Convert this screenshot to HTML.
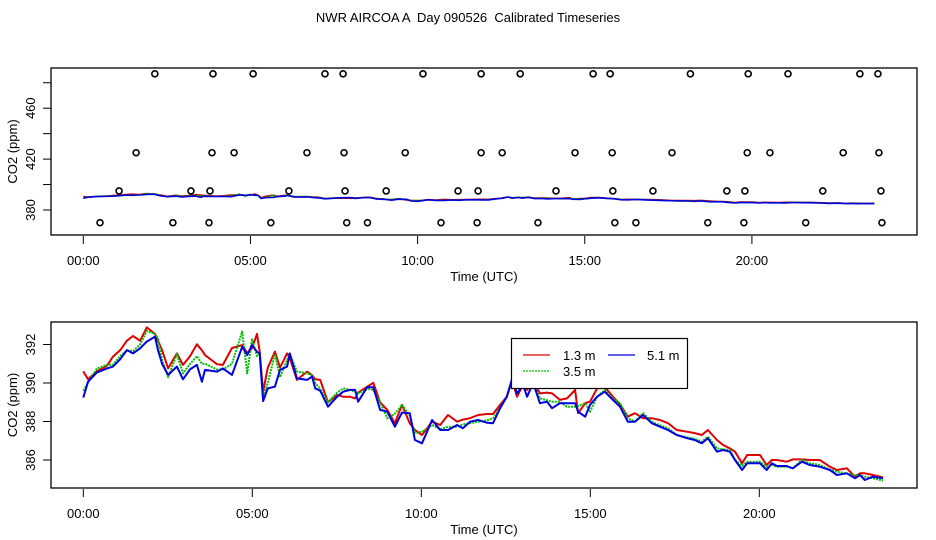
<!DOCTYPE html>
<html><head><meta charset="utf-8"><style>
body{margin:0;background:#fff}
svg{display:block;font-family:"Liberation Sans",sans-serif}
text{white-space:pre}
</style></head><body>
<svg id="chart" width="936" height="540" viewBox="0 0 936 540">
<text x="468" y="22" text-anchor="middle" font-size="13" xml:space="preserve">NWR AIRCOA A  Day 090526  Calibrated Timeseries</text>
<g id="top"></g>
<g id="bot"></g>
</svg>
<script>
const hours=[0.00,0.14,0.40,0.70,0.88,1.09,1.29,1.47,1.68,1.88,2.12,2.21,2.33,2.51,2.77,2.95,3.16,3.36,3.51,3.60,3.96,4.13,4.40,4.70,4.85,4.99,5.14,5.22,5.32,5.46,5.67,5.82,6.03,6.11,6.32,6.62,6.77,6.86,7.01,
7.24,7.51,7.69,7.89,8.04,8.13,8.40,8.58,8.78,8.99,9.22,9.43,9.66,9.81,10.02,10.32,10.56,10.79,11.06,11.23,11.44,11.68,11.94,12.12,12.33,12.53,12.69,12.83,13.01,13.13,13.31,13.51,
13.72,13.87,14.10,14.31,14.55,14.64,14.85,14.99,15.20,15.43,15.67,15.88,16.11,16.32,16.56,16.82,17.06,17.30,17.56,17.86,18.09,18.30,18.48,18.75,18.93,19.13,19.28,19.49,19.64,20.02,20.22,20.37,20.52,20.81,20.99,21.26,21.49,21.79,22.09,22.30,22.59,22.83,22.98,23.12,23.36,23.66];
const blue=[389.24,390.07,390.54,390.76,390.85,391.23,391.71,391.54,391.80,392.15,392.41,391.71,390.99,390.42,390.85,390.19,390.71,390.94,390.07,390.68,390.59,390.76,390.42,391.88,391.45,391.97,391.62,391.54,389.06,389.72,389.81,390.68,390.85,391.54,390.24,390.16,390.33,389.72,389.60,
388.77,389.29,389.55,389.64,389.64,389.03,389.78,389.78,388.60,388.51,387.73,388.46,388.43,387.04,386.87,388.08,387.56,387.56,387.82,387.65,387.99,388.08,387.94,387.91,388.69,389.29,390.24,389.46,389.90,389.29,390.01,388.95,
389.03,388.69,388.95,388.95,388.95,388.51,388.25,388.86,389.29,389.55,389.12,388.77,387.99,387.99,388.34,387.91,387.73,387.56,387.30,387.13,387.04,386.87,387.13,386.43,386.52,386.43,386.00,385.48,385.83,385.83,385.48,385.83,385.69,385.69,385.57,385.91,385.74,385.65,385.48,385.22,385.31,385.05,385.22,384.96,385.13,385.05];
const red=[390.60,390.20,390.60,390.90,391.37,391.70,392.20,392.44,392.20,392.89,392.55,392.20,391.71,390.76,391.54,390.94,391.40,392.01,391.70,391.45,390.97,390.94,391.82,391.97,391.56,391.80,392.55,391.63,389.55,390.80,391.63,390.80,391.54,391.30,390.16,390.59,390.40,390.20,390.16,
389.00,389.38,389.29,389.29,389.20,389.50,389.81,390.01,389.00,388.60,387.91,388.86,387.90,387.56,387.30,387.99,387.82,388.34,387.99,388.10,388.17,388.34,388.39,388.39,388.86,389.29,390.16,389.29,389.90,389.64,390.07,389.46,
389.50,389.46,389.12,389.20,389.64,388.43,388.95,389.03,389.72,389.78,389.29,388.90,388.25,388.43,388.17,388.17,388.08,387.91,387.56,387.47,387.40,387.30,387.56,387.04,386.78,386.60,386.43,385.83,386.26,386.26,385.74,386.00,386.00,385.91,386.03,386.03,386.00,386.00,385.65,385.48,385.57,385.13,385.31,385.31,385.22,385.10];
const green=[389.60,390.00,390.75,390.95,390.95,391.40,391.70,391.65,392.00,392.70,392.55,392.30,391.20,390.30,391.50,390.50,391.00,391.40,391.00,391.00,390.70,390.70,391.00,392.67,390.50,392.27,391.40,391.54,389.30,390.00,391.50,390.30,391.20,391.50,390.60,390.50,390.40,390.00,389.70,
389.00,389.50,389.72,389.64,389.55,389.46,389.70,389.64,389.00,388.17,388.40,388.86,388.30,387.39,387.47,387.82,387.60,387.73,387.73,387.85,387.91,387.99,388.05,388.17,388.70,389.30,390.16,389.72,389.85,389.90,389.98,389.20,
389.10,389.03,389.03,388.77,388.77,388.80,388.95,388.51,389.29,389.64,389.20,388.95,388.17,387.99,388.43,387.99,387.80,387.65,387.30,387.18,387.10,386.95,387.21,386.61,386.55,386.52,386.00,385.70,385.91,385.91,385.65,385.75,385.65,385.65,385.57,386.00,385.83,385.74,385.50,385.39,385.30,385.22,385.20,385.13,385.05,384.93];
const flagHours487=[2.14,3.88,5.08,7.23,7.77,10.16,11.90,13.07,15.25,15.76,18.16,19.89,21.08,23.23,23.77];
const flagHours425=[1.58,3.85,4.51,6.69,7.80,9.63,11.90,12.53,14.71,15.82,17.61,19.86,20.54,22.73,23.80];
const flagHours395=[1.07,3.22,3.79,6.15,7.83,9.06,11.21,11.81,14.14,15.84,17.04,19.25,19.79,22.12,23.86];
const flagHours370=[0.50,2.68,3.76,5.61,7.88,8.50,10.70,11.78,13.60,15.90,16.53,18.68,19.76,21.61,23.89];
const flagLevels=[487,425,395,370];
const xTickHours=[0,5,10,15,20];
const xTickLabels=["00:00","05:00","10:00","15:00","20:00"];
const topYTicks=[380,400,420,440,460,480];
const topYLabels=["380","","420","","460",""];
const botYTicks=[386,388,390,392];
const botYLabels=["386","388","390","392"];
const seriesNames=["1.3 m","3.5 m","5.1 m"];

const NS="http://www.w3.org/2000/svg";
function mk(parent,tag,attrs){const e=document.createElementNS(NS,tag);for(const k in attrs)e.setAttribute(k,attrs[k]);parent.appendChild(e);return e;}

function panel(g,box,xs,ys,yTicks,yLabels,name){
  const r=mk(g,'rect',{x:box.x,y:box.y,width:box.w,height:box.h,fill:'none',stroke:'#000','stroke-width':1.3});
  
  
  xTickHours.forEach((h,i)=>{
    const x=xs(h);
    const t=mk(g,'line',{x1:x,x2:x,y1:box.y+box.h+1,y2:box.y+box.h+9,stroke:'#000'});
    
    
    const l=mk(g,'text',{x:x,y:box.y+box.h+30,'text-anchor':'middle','font-size':13});
    l.textContent=xTickLabels[i];
    
    
  });
  yTicks.forEach((v,i)=>{
    const y=ys(v);
    const t=mk(g,'line',{x1:box.x-8,x2:box.x,y1:y,y2:y,stroke:'#000'});
    
    
    if(yLabels[i]){
      const l=mk(g,'text',{x:0,y:0,'text-anchor':'middle','font-size':13,transform:`translate(35,${y}) rotate(-90)`});
      l.textContent=yLabels[i];
      
      
    }
  });
  const xt=mk(g,'text',{x:484,y:box.y+box.h+46,'text-anchor':'middle','font-size':13});
  xt.textContent='Time (UTC)';
  
  
  const yt=mk(g,'text',{x:0,y:0,'text-anchor':'middle','font-size':13,transform:`translate(17,${box.y+box.h/2}) rotate(-90)`});
  yt.textContent='CO2 (ppm)';
  
  
}
function drawLine(g,xs,ys,vals,color,dash,name,w){
  const d=vals.map((v,i)=>(i?'L':'M')+xs(hours[i]).toFixed(1)+','+ys(v).toFixed(1)).join('');
  const p=mk(g,'path',{d:d,fill:'none',stroke:color,'stroke-width':w,'stroke-linejoin':'round'});
  if(dash)p.setAttribute('stroke-dasharray',dash);
  
  
}

// top panel
const topG=document.getElementById('top');
const tBox={x:51,y:68,w:866,h:167};
const txs=h=>83.3+33.43*h;
const tys=v=>210-(v-380)*1.2725;
panel(topG,tBox,txs,tys,topYTicks,topYLabels,'top');
drawLine(topG,txs,tys,red,'#e00000',null,'top-series-1-3m',1.6);
drawLine(topG,txs,tys,green,'#00c000','2,1','top-series-3-5m',1.6);
drawLine(topG,txs,tys,blue,'#0000e0',null,'top-series-5-1m',1.6);
[flagHours487,flagHours425,flagHours395,flagHours370].forEach((arr,k)=>{
  arr.forEach(h=>{
    const c=mk(topG,'circle',{cx:txs(h),cy:tys(flagLevels[k]),r:3,fill:'none',stroke:'#000','stroke-width':1.6});
    
    
  });
});

// bottom panel
const botG=document.getElementById('bot');
const bBox={x:51,y:322,w:866,h:166};
const bxs=h=>83.3+33.8*h;
const bys=v=>460-(v-386)*19.25;
panel(botG,bBox,bxs,bys,botYTicks,botYLabels,'bottom');
drawLine(botG,bxs,bys,red,'#e00000',null,'series-1-3m',2);
drawLine(botG,bxs,bys,green,'#00c000','2,1','series-3-5m',2);
drawLine(botG,bxs,bys,blue,'#0000e0',null,'series-5-1m',2);

// legend
const lg=mk(botG,'g',{});


const lr=mk(lg,'rect',{x:511.5,y:338.5,width:176,height:50,fill:'#fff',stroke:'#000','stroke-width':1.2});


const entries=[[523,355,'#e00000',null,563,seriesNames[0]],[523,371,'#00c000','2,1',563,seriesNames[1]],[608,355,'#0000e0',null,647,seriesNames[2]]];
entries.forEach(e=>{
  const l=mk(lg,'line',{x1:e[0],x2:e[0]+27,y1:e[1],y2:e[1],stroke:e[2],'stroke-width':1.3});
  if(e[3])l.setAttribute('stroke-dasharray',e[3]);
  
  
  const t=mk(lg,'text',{x:e[4],y:e[1]+5,'font-size':13});
  t.textContent=e[5];
  
  
});
</script>
</body></html>
